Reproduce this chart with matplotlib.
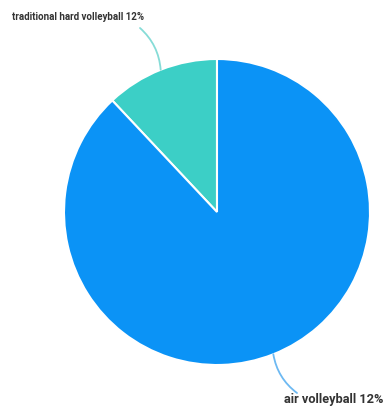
import numpy as np
import matplotlib
matplotlib.use('Agg')
import matplotlib.pyplot as plt

plt.rcParams['font.family'] = ['Roboto', 'DejaVu Sans']

# slice data (labels as shown on the chart)
names = ['traditional hard volleyball', 'air volleyball']
shares = [12, 88]
label_texts = ['traditional hard volleyball 12%', 'air volleyball 12%']
colors = ['#3ccfc6', '#0b93f6']
line_colors = ['#86dcd7', '#6db9f2']

W, H = 384, 407
fig = plt.figure(figsize=(W / 100, H / 100), dpi=100)
ax = fig.add_axes([0, 0, 1, 1])

cx, cy, r = 217, H - 212, 153
wedges, _ = ax.pie(shares, colors=colors, startangle=90, counterclock=True,
                   center=(cx, cy), radius=r, frame=True,
                   wedgeprops=dict(edgecolor='white', linewidth=1.5))

ax.set_xlim(0, W)
ax.set_ylim(0, H)
ax.set_aspect('equal')
ax.axis('off')

# leader lines from wedge middle on the rim
ends = [(140, H - 28), (297, H - 393)]
rads = [-0.2, -0.2]
for w, end, rad, lc in zip(wedges, ends, rads, line_colors):
    ang = np.deg2rad((w.theta1 + w.theta2) / 2)
    px, py = cx + r * np.cos(ang), cy + r * np.sin(ang)
    ax.annotate('', xy=(px, py), xytext=end,
                arrowprops=dict(arrowstyle='-', color=lc, lw=1.3,
                                shrinkA=0, shrinkB=0,
                                connectionstyle=f'arc3,rad={rad}'))

ax.text(12, H - 17, label_texts[0], ha='left', va='center',
        fontsize=7.0, fontweight='bold', color='#333333')
ax.text(383, H - 399, label_texts[1], ha='right', va='center',
        fontsize=9.2, fontweight='bold', color='#333333')

fig.savefig('out.png', dpi=100)
